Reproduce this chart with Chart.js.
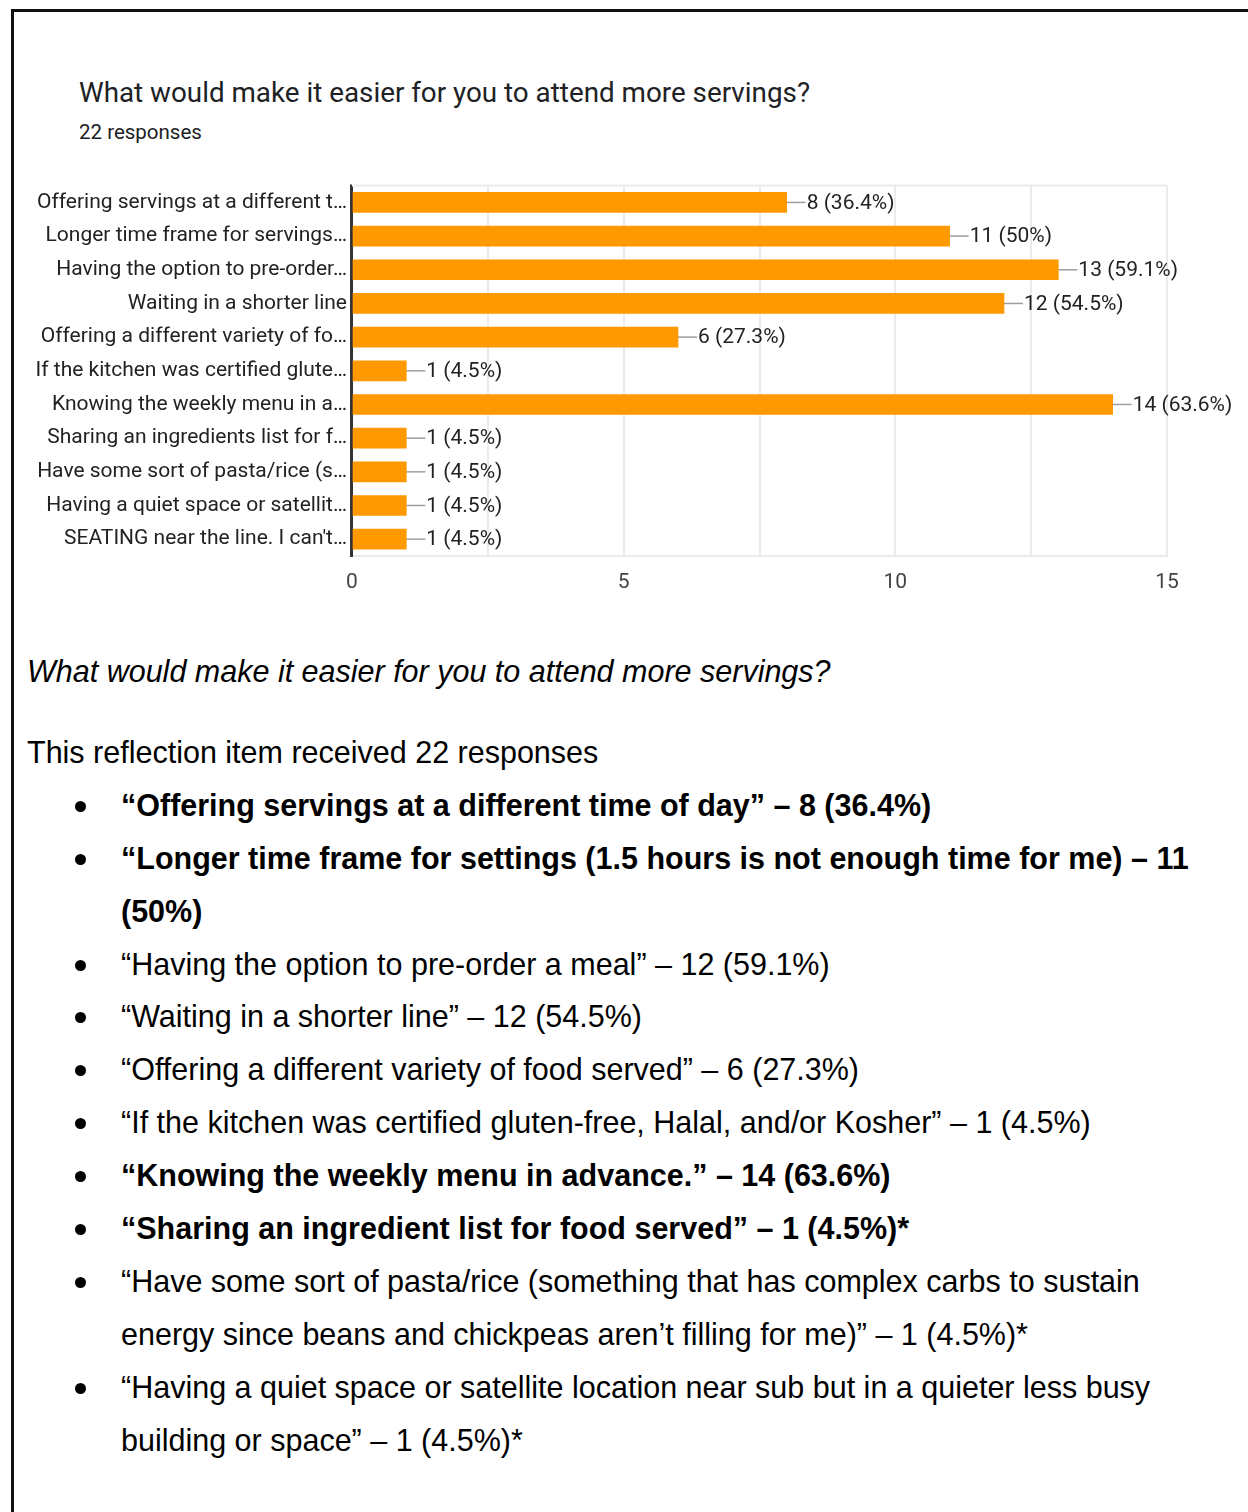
<!DOCTYPE html>
<html>
<head>
<meta charset="utf-8">
<title>What would make it easier for you to attend more servings?</title>
<script src="https://cdn.jsdelivr.net/npm/chart.js"></script>
<style>
  html, body { margin: 0; padding: 0; background: #fff; }
  body { width: 1248px; height: 1512px; position: relative; overflow: hidden; }
  .frame { position: absolute; left: 11px; top: 9px; width: 1300px; height: 1600px;
           border-left: 3px solid #111; border-top: 3px solid #111; }
  .title { position: absolute; left: 79px; top: 76px; font: 27.8px Roboto, sans-serif; color: #202124; white-space: nowrap; }
  .sub { position: absolute; left: 79px; top: 120px; font: 20.5px Roboto, sans-serif; color: #202124; }
  #chart { position: absolute; left: 0; top: 168px; }
  .doc { position: absolute; left: 27px; top: 645px; font-family: "Liberation Sans", Arial, sans-serif;
         font-size: 30.5px; line-height: 52.9px; color: #000; white-space: nowrap; }
  .doc p { margin: 0; }
  .doc .q { font-style: italic; margin-bottom: 28px; }
  .doc ul { list-style: none; margin: 0; padding: 0 0 0 94px; }
  .doc li { position: relative; }
  .doc li::before { content: ""; position: absolute; left: -46px; top: 22px; width: 11px; height: 11px;
                    border-radius: 50%; background: #000; }
  .doc li.b { font-weight: bold; }
</style>
</head>
<body>
<div class="frame"></div>
<div class="title">What would make it easier for you to attend more servings?</div>
<div class="sub">22 responses</div>
<canvas id="chart" width="1248" height="440"></canvas>

<div class="doc">
  <p class="q">What would make it easier for you to attend more servings?</p>
  <p>This reflection item received 22 responses</p>
  <ul>
    <li class="b">“Offering servings at a different time of day” – 8 (36.4%)</li>
    <li class="b">“Longer time frame for settings (1.5 hours is not enough time for me) – 11<br>(50%)</li>
    <li>“Having the option to pre-order a meal” – 12 (59.1%)</li>
    <li>“Waiting in a shorter line” – 12 (54.5%)</li>
    <li>“Offering a different variety of food served” – 6 (27.3%)</li>
    <li>“If the kitchen was certified gluten-free, Halal, and/or Kosher” – 1 (4.5%)</li>
    <li class="b">“Knowing the weekly menu in advance.” – 14 (63.6%)</li>
    <li class="b">“Sharing an ingredient list for food served” – 1 (4.5%)*</li>
    <li>“Have some sort of pasta/rice (something that has complex carbs to sustain<br>energy since beans and chickpeas aren’t filling for me)” – 1 (4.5%)*</li>
    <li>“Having a quiet space or satellite location near sub but in a quieter less busy<br>building or space” – 1 (4.5%)*</li>
  </ul>
</div>

<script>
// chart data
const categories = [
  'Offering servings at a different t…',
  'Longer time frame for servings…',
  'Having the option to pre-order…',
  'Waiting in a shorter line',
  'Offering a different variety of fo…',
  'If the kitchen was certified glute…',
  'Knowing the weekly menu in a…',
  'Sharing an ingredients list for f…',
  'Have some sort of pasta/rice (s…',
  'Having a quiet space or satellit…',
  "SEATING near the line. I can't…"
];
const counts = [8, 11, 13, 12, 6, 1, 14, 1, 1, 1, 1];
const percents = ['36.4%', '50%', '59.1%', '54.5%', '27.3%', '4.5%', '63.6%', '4.5%', '4.5%', '4.5%', '4.5%'];
const xTickLabels = [0, 5, 10, 15];

const FONT = 'Roboto, sans-serif';

// light frame on top + dark zero line + "n (p%)" labels with leader lines
const decorations = {
  id: 'decorations',
  afterDatasetsDraw(chart) {
    const ctx = chart.ctx;
    const area = chart.chartArea;
    const xs = chart.scales.x;
    ctx.save();
    ctx.strokeStyle = '#ebebeb';
    ctx.lineWidth = 2;
    ctx.beginPath();
    ctx.moveTo(area.left, area.top);
    ctx.lineTo(area.right, area.top);
    ctx.stroke();

    const x0 = Math.round(xs.getPixelForValue(0)) - 1;
    ctx.strokeStyle = '#333';
    ctx.lineWidth = 2;
    ctx.beginPath();
    ctx.moveTo(x0, area.top - 1);
    ctx.lineTo(x0, area.bottom + 1);
    ctx.stroke();

    const meta = chart.getDatasetMeta(0);
    ctx.font = '21px ' + FONT;
    ctx.textBaseline = 'middle';
    ctx.textAlign = 'left';
    meta.data.forEach((bar, i) => {
      ctx.strokeStyle = '#9e9e9e';
      ctx.lineWidth = 1.5;
      ctx.beginPath();
      ctx.moveTo(bar.x, bar.y);
      ctx.lineTo(bar.x + 19, bar.y);
      ctx.stroke();
      ctx.fillStyle = '#222';
      ctx.fillText(counts[i] + ' (' + percents[i] + ')', bar.x + 20, bar.y + 1);
    });
    ctx.restore();
  }
};

new Chart(document.getElementById('chart'), {
  type: 'bar',
  data: {
    labels: categories,
    datasets: [{
      data: counts,
      backgroundColor: '#ff9900',
      barThickness: 20,
      borderWidth: 0
    }]
  },
  options: {
    indexAxis: 'y',
    responsive: false,
    animation: false,
    layout: { padding: { top: 10, right: 81, left: 0, bottom: 0 } },
    plugins: { legend: { display: false }, tooltip: { enabled: false } },
    scales: {
      x: {
        min: 0,
        max: 15,
        ticks: {
          stepSize: 2.5,
          autoSkip: false,
          maxRotation: 0,
          padding: 14,
          color: '#444',
          font: { family: FONT, size: 21 },
          callback: v => xTickLabels.includes(v) ? v : ''
        },
        grid: { color: '#ebebeb', lineWidth: 2, drawTicks: false },
        border: { color: '#ebebeb', width: 2 },
        afterFit(scale) { scale.height = 52; }
      },
      y: {
        ticks: {
          padding: 5,
          color: '#222',
          font: { family: FONT, size: 21 }
        },
        grid: { display: false, drawTicks: false },
        border: { color: '#333', width: 2 },
        afterFit(scale) { scale.width = 352; }
      }
    }
  },
  plugins: [decorations]
});
</script>
</body>
</html>
